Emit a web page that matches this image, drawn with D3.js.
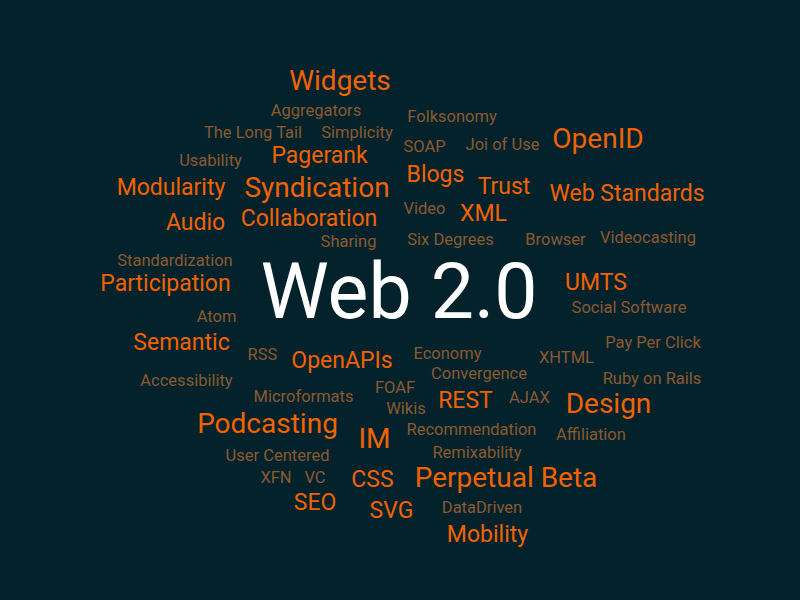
<!DOCTYPE html>
<html>
<head>
<meta charset="utf-8">
<script src="https://cdn.jsdelivr.net/npm/d3@7"></script>
<style>
  html, body { margin: 0; padding: 0; background: #03222c; }
  svg { display: block; }
</style>
</head>
<body>
<div id="cloud"></div>
<script>
// words, their weight (1 = minor tag, 4 = headline) and placement in the cloud
const words = ["Widgets", "Aggregators", "Folksonomy", "The Long Tail", "Simplicity", "SOAP", "Joi of Use", "OpenID",
  "Usability", "Pagerank", "Blogs", "Trust", "Web Standards", "Modularity", "Syndication", "Audio",
  "Collaboration", "Video", "XML", "Sharing", "Six Degrees", "Browser", "Videocasting", "Standardization",
  "Web 2.0", "UMTS", "Participation", "Social Software", "Atom", "Semantic", "Pay Per Click", "RSS",
  "OpenAPIs", "Economy", "XHTML", "Accessibility", "Convergence", "Ruby on Rails", "Microformats", "FOAF",
  "Wikis", "REST", "AJAX", "Design", "Podcasting", "IM", "Recommendation", "Affiliation",
  "User Centered", "Remixability", "XFN", "VC", "CSS", "Perpetual Beta", "SEO", "SVG",
  "DataDriven", "Mobility"];
const weights = [3, 1, 1, 1, 1, 1, 1, 3,
  1, 2, 2, 2, 2, 2, 3, 2,
  2, 1, 2, 1, 1, 1, 1, 1,
  4, 2, 2, 1, 1, 2, 1, 1,
  2, 1, 1, 1, 1, 1, 1, 1,
  1, 2, 1, 3, 3, 3, 1, 1,
  1, 1, 1, 1, 2, 3, 2, 2,
  1, 2];
// cloud coordinates (origin at cloud centre)
const cloudX = [-60, -84, 52, -147, -43, 24.5, 102.5, 198,
  -189.5, -80.5, 35.5, 104, 227, -229, -83, -204.5,
  -91, 24.5, 83.5, -51.5, 50.5, 155.5, 248, -225,
  -1, 196, -234.5, 229, -183.5, -218.5, 253, -137.5,
  -58, 47.5, 166.5, -213.5, 79, 252, -96.5, -5,
  6, 65.5, 129.5, 208.5, -132.5, -25.5, 71.5, 191,
  -122.5, 77, -124, -85, -27.5, 106, -85, -8.5,
  82, 87.5];
const cloudY = [-210, -184, -178, -162, -162, -148, -150, -152,
  -134, -137, -118, -106, -99, -105, -103, -70,
  -74, -86, -79, -53, -55, -55, -57, -34,
  18, -10, -9, 13, 22, 50, 48, 60,
  68, 59, 63, 86, 79, 84, 102, 93,
  114, 108, 103, 113, 133, 148, 135, 140,
  161, 158, 183, 183, 187, 187, 210, 218,
  213, 242];

const width = 800, height = 600;

const svg = d3.select("#cloud").append("svg")
  .attr("width", width)
  .attr("height", height);

svg.append("rect").attr("width", width).attr("height", height).attr("fill", "#03222c");

const x = d3.scaleLinear().domain([-400, 400]).range([0, width]);
const y = d3.scaleLinear().domain([-300, 300]).range([0, height]);
const fontSize = d3.scaleOrdinal().domain([1, 2, 3, 4]).range([16.5, 23, 28, 77]);
const colour = d3.scaleOrdinal().domain([1, 2, 3, 4]).range(["#8b5a2f", "#f26200", "#f26200", "#ffffff"]);

const data = words.map((w, i) => ({ text: w, weight: weights[i], cx: cloudX[i], cy: cloudY[i] }));

svg.append("g")
  .selectAll("text")
  .data(data)
  .join("text")
  .attr("x", d => x(d.cx))
  .attr("y", d => y(d.cy))
  .attr("text-anchor", "middle")
  .attr("font-family", "Roboto, 'Noto Sans', sans-serif")
  .attr("font-size", d => fontSize(d.weight))
  .attr("fill", d => colour(d.weight))
  .text(d => d.text);
</script>
</body>
</html>
